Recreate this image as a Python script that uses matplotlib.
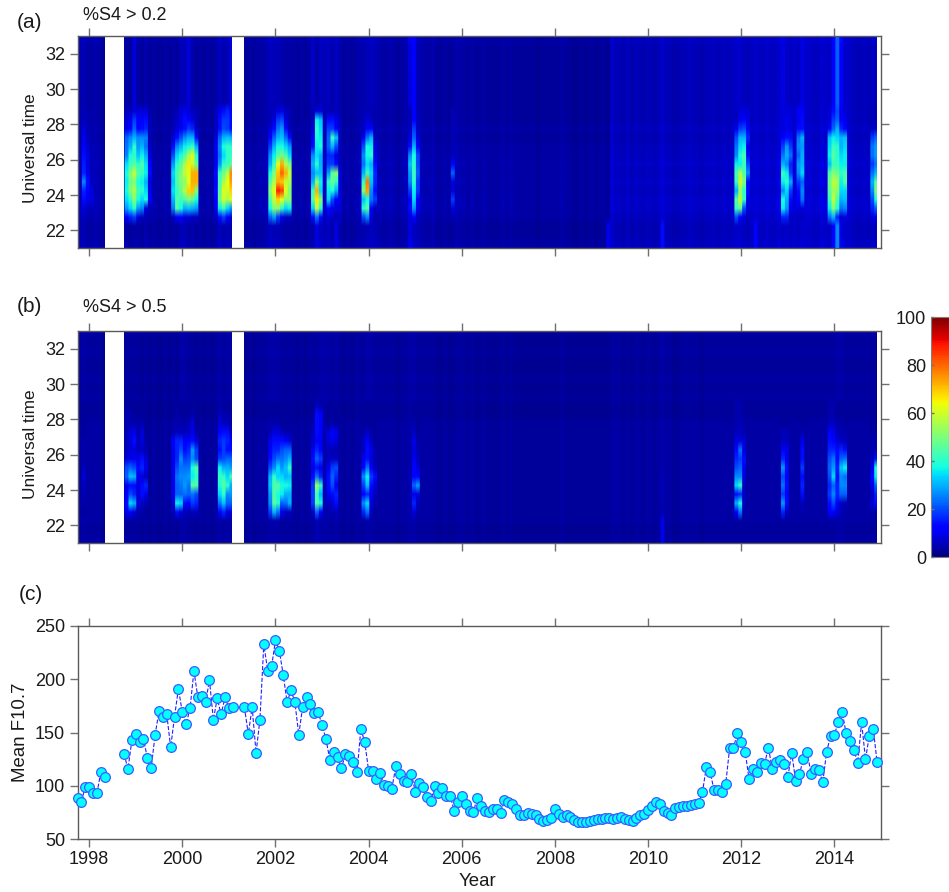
import numpy as np
import matplotlib
matplotlib.use("Agg")
import matplotlib.pyplot as plt

plt.rcParams['font.family'] = ['Liberation Sans', 'DejaVu Sans']

W, H = 949, 892
X_START, X_END = 1997.75, 2015.0
YEAR_TICKS = list(range(1998, 2016, 2))
UT_TICKS = [22, 24, 26, 28, 30, 32]
F107_TICKS = [50, 100, 150, 200, 250]
CBAR_TICKS = [0, 20, 40, 60, 80, 100]
GAPS = [(1998.34, 1998.75), (2001.07, 2001.33), (2014.92, 2015.0)]

# Monthly mean F10.7 (None = missing month)
F107 = [88.6, 85, 99, 99, 93.6, 93, 112.5, 108.4, None, None, None, None,
        130, 115.6, 142.6, 149, 141, 144, 126, 117, 148, 170, 165, 167, 136, 165, 191,
        169, 158, 172.8, 208, 183, 184, 178.7, 199, 162, 182, 167, 183, 173, 174, None, None,
        173.7, 148.6, 173.7, 131, 162, 233, 208, 212, 236.5, 226.8, 204, 178.4, 189.7,
        178.7, 148, 174, 183.8, 177, 168.4,
        169, 157, 144, 124.4, 132, 126.6, 116.6, 129.4, 127.9, 121.9, 112.5, 153.3, 141,
        114, 114, 106.8, 112, 100.9, 100.2, 97.4, 118.4, 110.9, 104.6, 103.4, 111.5, 94.6,
        102.4, 99, 89.9, 85.8, 99.3, 93.3, 98, 90.8, 90.8, 76.7, 84.5, 90.5, 83.3, 76.7,
        75.4, 88.9, 80.8, 76, 75.4, 78.6, 78, 74.2, 86.4, 84.5, 83.3, 78, 72.3, 72.6, 74.5,
        73.2, 72.6, 69, 67, 67.6, 69.5, 78, 73.9, 70.7, 72.3, 70.7, 68.2, 65.7, 65.7, 66.3,
        67.3, 68.2, 68.8, 69.2, 69.5, 69.8, 69.2, 69.5, 70.7, 68.5, 68.2, 67.3,
        70, 72.3, 73.5, 77, 81, 84.9, 83.3, 76, 74.2, 72.3, 79.5, 79.8, 80.8, 81.4, 82,
        83.3, 83.6, 94, 117.5, 112.8, 95.8, 95.8, 94.3, 101.8, 135.4, 135.4, 150, 141, 132,
        106.5, 115.6, 113, 121.3, 120.6, 135.7, 115.6, 121.9, 124, 120.6, 108, 131, 104.6,
        111.2, 125, 131.3, 110.6, 115.6, 114.4, 103.4, 132, 146.7, 148, 160, 169.3, 149.5,
        142.3, 133.5, 121.6, 159.6, 125, 147, 153.6, 121.9]

# Background level of each monthly column, by year
A_BG = ([6, 7, 5] +
        [5, 6, 5, 4, 4, 4, 4, 4, 4, 5, 4, 5] +
        [5, 4, 6, 4, 5, 4, 4, 5, 4, 5, 4, 7] +
        [7, 5, 6, 4, 5, 4, 5, 4, 5, 8, 6, 7] +
        [6, 5, 4, 4, 4, 5, 4, 5, 5, 6, 8, 7] +
        [7, 6, 5, 5, 5, 4, 5, 4, 5, 6, 5, 8] +
        [7, 8, 6, 8, 6, 4, 5, 4, 5, 6, 6, 7] +
        [8, 7, 6, 5, 5, 6, 5, 4, 5, 6, 12, 8] +
        [7, 6, 5, 5, 6, 4, 4, 5, 4, 4, 6, 5] +
        [5, 4, 5, 4, 4, 5, 4, 4, 4, 4, 5, 4] +
        [5, 4, 4, 4, 4, 4, 4, 3, 4, 4, 4, 4] +
        [4, 5, 4, 4, 3, 3, 4, 3, 4, 4, 3, 4] +
        [4, 3, 9, 7, 7, 6, 8, 6, 7, 7, 6, 7] +
        [7, 6, 7, 9, 7, 7, 6, 6, 7, 7, 8, 7] +
        [7, 6, 7, 7, 8, 7, 7, 8, 7, 8, 9, 9] +
        [8, 7, 8, 9, 8, 8, 9, 8, 8, 10, 8, 9] +
        [8, 9, 8, 10, 9, 9, 8, 8, 10, 9, 8, 8] +
        [14, 12, 9, 9, 8, 7, 7, 8, 7, 8, 8, 8])
B_BG = ([4, 5, 4] +
        [4, 4, 4, 3, 4, 3, 4, 4, 3, 4, 4, 4] +
        [4, 3, 4, 3, 4, 3, 3, 4, 3, 4, 3, 5] +
        [5, 4, 4, 3, 4, 3, 4, 3, 4, 5, 4, 5] +
        [4, 4, 3, 3, 3, 4, 3, 4, 4, 4, 5, 5] +
        [5, 4, 4, 4, 4, 3, 4, 3, 4, 4, 4, 5] +
        [5, 5, 4, 5, 4, 3, 4, 3, 4, 4, 4, 5] +
        [5, 4, 4, 4, 4, 4, 4, 3, 4, 4, 5, 5] +
        [4, 4, 4, 4, 4, 3, 3, 4, 3, 3, 4, 4] +
        [4, 3, 4, 3, 3, 4, 3, 3, 3, 3, 4, 3] +
        [4, 3, 3, 3, 3, 3, 3, 3, 3, 3, 3, 3] +
        [3, 4, 3, 3, 3, 3, 3, 3, 3, 3, 3, 3] +
        [3, 3, 4, 4, 4, 3, 4, 3, 4, 4, 3, 4] +
        [4, 3, 4, 5, 4, 4, 3, 3, 4, 4, 4, 4] +
        [4, 3, 4, 4, 4, 4, 4, 4, 4, 4, 4, 4] +
        [4, 4, 4, 4, 4, 4, 4, 4, 4, 4, 4, 4] +
        [4, 4, 4, 4, 4, 4, 4, 4, 4, 4, 4, 4] +
        [5, 5, 4, 4, 4, 4, 4, 4, 4, 4, 4, 4])

# Relative level of the background for each half-hour row, 21 to 33 UT
A_ROW = [0.85, 0.7, 0.75, 0.85, 0.95, 0.95, 0.85, 0.95, 0.85, 0.95, 0.85, 0.85,
         0.75, 0.85, 0.75, 0.75, 0.75, 0.7, 0.75, 0.7, 0.75, 0.75, 0.7, 0.85]
B_ROW = [0.85, 0.75, 0.85, 0.85, 0.95, 0.95, 0.95, 0.95, 0.85, 0.85, 0.85, 0.85,
         0.85, 0.85, 0.75, 0.75, 0.85, 0.75, 0.85, 0.75, 0.75, 0.85, 0.75, 0.85]

# Active columns: month index -> % for half-hour rows centred 22.75 ... 28.75 UT
A_ACTIVE = {
    1: [6, 8, 14, 16, 26, 16, 15, 14, 12, 10, 8, 6, 5],
    2: [4, 6, 10, 12, 14, 10, 9, 9, 7, 6, 5, 4, 4],
    3: [4, 5, 9, 8, 6, 6, 5, 5, 5, 4, 4, 4, 4],
    12: [12, 28, 35, 38, 36, 38, 35, 25, 24, 22, 10, 8, 6],
    13: [15, 34, 40, 50, 48, 50, 42, 38, 30, 26, 12, 10, 6],
    14: [18, 40, 52, 56, 50, 58, 45, 40, 40, 30, 22, 18, 8],
    15: [8, 28, 38, 42, 38, 45, 40, 32, 28, 26, 12, 12, 8],
    16: [6, 25, 34, 40, 36, 42, 44, 36, 30, 26, 14, 12, 8],
    17: [5, 8, 38, 34, 30, 36, 35, 30, 24, 25, 16, 14, 8],
    18: [4, 5, 12, 10, 8, 14, 12, 8, 6, 5, 5, 5, 4],
    24: [6, 25, 30, 35, 32, 34, 28, 20, 14, 8, 5, 5, 4],
    25: [12, 45, 45, 42, 44, 44, 40, 34, 26, 14, 8, 6, 5],
    26: [12, 38, 42, 48, 50, 50, 46, 38, 30, 20, 10, 10, 8],
    27: [8, 30, 45, 56, 52, 58, 55, 45, 36, 26, 14, 14, 10],
    28: [8, 32, 50, 68, 62, 62, 66, 55, 38, 30, 18, 12, 8],
    29: [6, 30, 46, 70, 72, 72, 58, 62, 42, 30, 16, 8, 6],
    30: [6, 28, 38, 50, 72, 72, 48, 40, 30, 14, 6, 5, 5],
    35: [6, 10, 12, 14, 12, 14, 10, 10, 10, 8, 6, 6, 6],
    36: [14, 36, 48, 46, 44, 42, 28, 24, 26, 22, 14, 14, 10],
    37: [18, 42, 60, 62, 55, 48, 40, 34, 38, 30, 20, 18, 14],
    38: [12, 34, 55, 60, 64, 56, 42, 40, 42, 32, 18, 18, 16],
    39: [8, 28, 62, 68, 74, 76, 46, 42, 40, 30, 14, 14, 12],
    49: [22, 38, 45, 52, 46, 38, 30, 26, 18, 12, 8, 5, 5],
    50: [28, 50, 58, 62, 56, 50, 42, 36, 30, 22, 14, 8, 6],
    51: [18, 52, 68, 88, 72, 70, 62, 46, 38, 30, 24, 18, 8],
    52: [10, 40, 62, 84, 70, 80, 72, 48, 38, 32, 28, 20, 10],
    53: [6, 34, 52, 62, 58, 72, 56, 44, 34, 24, 14, 8, 6],
    54: [6, 36, 52, 50, 56, 58, 50, 34, 28, 14, 6, 5, 5],
    60: [14, 34, 46, 42, 30, 26, 30, 26, 14, 12, 8, 6, 5],
    61: [24, 58, 66, 72, 52, 32, 40, 34, 36, 38, 40, 36, 8],
    62: [14, 40, 50, 34, 36, 32, 30, 30, 38, 36, 34, 32, 8],
    64: [8, 14, 34, 36, 40, 28, 18, 16, 22, 22, 18, 14, 5],
    65: [6, 10, 20, 38, 48, 46, 18, 16, 30, 42, 18, 14, 5],
    66: [5, 8, 12, 30, 40, 50, 14, 8, 20, 32, 12, 10, 5],
    67: [6, 8, 8, 8, 8, 8, 6, 6, 6, 6, 6, 6, 5],
    73: [20, 40, 32, 50, 40, 30, 24, 26, 20, 10, 6, 5, 5],
    74: [26, 46, 38, 74, 78, 42, 34, 38, 38, 24, 12, 8, 5],
    75: [8, 12, 24, 26, 32, 34, 30, 40, 36, 30, 12, 6, 5],
    76: [4, 5, 18, 14, 16, 16, 14, 10, 8, 6, 5, 4, 4],
    85: [8, 14, 12, 18, 26, 28, 32, 26, 14, 8, 6, 5, 5],
    86: [12, 28, 34, 36, 40, 42, 40, 38, 30, 22, 18, 12, 12],
    87: [6, 10, 12, 18, 18, 22, 20, 20, 12, 8, 6, 6, 5],
    96: [5, 8, 18, 8, 8, 22, 12, 6, 5, 5, 5, 5, 5],
    169: [20, 42, 46, 30, 42, 44, 36, 26, 24, 20, 10, 6, 6],
    170: [12, 46, 58, 52, 60, 55, 36, 38, 34, 30, 18, 10, 8],
    171: [8, 20, 40, 40, 50, 44, 42, 44, 36, 30, 20, 12, 8],
    172: [6, 8, 10, 14, 14, 26, 20, 14, 10, 16, 12, 8, 8],
    181: [16, 36, 38, 26, 36, 42, 30, 24, 18, 12, 8, 8, 8],
    182: [16, 28, 30, 34, 40, 36, 26, 30, 28, 14, 10, 10, 8],
    183: [6, 10, 14, 18, 30, 18, 16, 24, 18, 14, 8, 8, 8],
    185: [6, 8, 12, 14, 18, 26, 28, 22, 26, 24, 14, 10, 12],
    186: [6, 8, 24, 26, 22, 34, 30, 30, 28, 30, 14, 14, 12],
    193: [24, 36, 42, 46, 48, 44, 32, 36, 34, 32, 12, 8, 8],
    194: [30, 50, 58, 54, 58, 50, 42, 46, 42, 36, 22, 18, 14],
    195: [16, 40, 44, 52, 55, 48, 42, 40, 40, 34, 30, 22, 20],
    196: [8, 24, 30, 34, 36, 40, 36, 34, 30, 30, 16, 12, 10],
    197: [8, 26, 32, 34, 46, 44, 36, 36, 34, 32, 12, 10, 8],
    204: [8, 16, 20, 26, 30, 24, 18, 24, 24, 18, 6, 5, 5],
    205: [10, 22, 38, 50, 46, 30, 24, 28, 28, 22, 8, 6, 5],
}
B_ACTIVE = {
    1: [3, 4, 5, 6, 8, 5, 4, 4, 4, 3, 3, 3, 3],
    12: [10, 14, 12, 10, 22, 20, 8, 6, 6, 5, 4, 4, 3],
    13: [12, 34, 20, 14, 32, 22, 10, 8, 8, 8, 4, 4, 3],
    14: [8, 30, 16, 14, 30, 20, 10, 8, 14, 10, 4, 3, 3],
    15: [4, 8, 8, 8, 10, 14, 10, 6, 6, 4, 4, 3, 3],
    16: [4, 6, 14, 14, 8, 16, 14, 6, 8, 8, 4, 3, 3],
    17: [3, 5, 10, 16, 6, 10, 8, 4, 4, 3, 3, 3, 3],
    24: [4, 8, 10, 10, 10, 10, 10, 10, 12, 4, 4, 3, 3],
    25: [14, 36, 22, 22, 24, 20, 16, 16, 16, 6, 4, 4, 3],
    26: [8, 34, 22, 24, 26, 24, 26, 20, 16, 5, 4, 3, 3],
    27: [6, 14, 24, 28, 26, 24, 18, 14, 12, 6, 4, 3, 3],
    28: [4, 12, 22, 24, 28, 24, 20, 16, 12, 6, 5, 3, 3],
    29: [6, 18, 24, 46, 36, 38, 26, 28, 14, 10, 8, 4, 3],
    30: [6, 16, 20, 44, 40, 44, 20, 18, 8, 4, 3, 3, 3],
    36: [12, 24, 34, 38, 42, 36, 18, 14, 16, 12, 8, 6, 4],
    37: [16, 32, 40, 46, 40, 30, 20, 18, 18, 14, 6, 4, 3],
    38: [8, 22, 26, 40, 34, 30, 22, 14, 16, 14, 6, 4, 3],
    39: [10, 22, 28, 30, 44, 28, 22, 14, 12, 6, 3, 3, 3],
    49: [18, 26, 28, 32, 30, 20, 14, 12, 10, 5, 4, 3, 3],
    50: [30, 46, 44, 44, 40, 26, 20, 16, 14, 8, 4, 3, 3],
    51: [24, 40, 38, 46, 34, 34, 24, 16, 14, 8, 4, 3, 3],
    52: [10, 22, 36, 38, 34, 28, 24, 20, 14, 6, 3, 3, 3],
    53: [6, 24, 30, 38, 30, 32, 26, 22, 12, 4, 3, 3, 3],
    54: [6, 30, 30, 36, 32, 40, 30, 22, 8, 4, 3, 3, 3],
    60: [6, 18, 18, 18, 14, 10, 14, 10, 6, 6, 4, 3, 3],
    61: [22, 46, 42, 54, 24, 14, 22, 16, 12, 14, 14, 14, 6],
    62: [12, 38, 30, 40, 16, 10, 18, 12, 10, 12, 12, 12, 4],
    64: [4, 6, 10, 14, 14, 10, 6, 5, 8, 8, 3, 3, 3],
    65: [4, 8, 14, 20, 22, 18, 6, 5, 10, 12, 4, 3, 3],
    66: [6, 14, 16, 10, 16, 20, 6, 4, 8, 10, 3, 3, 3],
    73: [16, 26, 12, 18, 26, 12, 10, 6, 6, 4, 3, 3, 3],
    74: [24, 34, 16, 32, 36, 24, 14, 14, 12, 6, 3, 3, 3],
    75: [6, 8, 10, 14, 18, 10, 8, 10, 6, 4, 3, 3, 3],
    76: [3, 4, 6, 8, 14, 6, 4, 4, 3, 3, 3, 3, 3],
    86: [8, 16, 10, 22, 12, 12, 10, 8, 10, 6, 4, 3, 3],
    87: [4, 6, 8, 28, 12, 8, 6, 5, 4, 3, 3, 3, 3],
    169: [12, 30, 14, 34, 26, 20, 16, 14, 8, 6, 4, 4, 4],
    170: [24, 38, 16, 40, 26, 22, 18, 24, 8, 6, 5, 4, 4],
    171: [4, 6, 6, 6, 8, 10, 14, 8, 8, 4, 4, 3, 3],
    181: [16, 28, 18, 24, 20, 28, 16, 12, 6, 5, 3, 3, 3],
    182: [6, 14, 12, 14, 12, 14, 10, 10, 6, 5, 3, 3, 3],
    186: [4, 6, 14, 16, 14, 18, 14, 14, 10, 4, 3, 3, 3],
    193: [12, 14, 18, 16, 20, 22, 20, 16, 14, 12, 6, 4, 4],
    194: [12, 20, 26, 22, 34, 28, 24, 16, 12, 10, 6, 4, 4],
    195: [8, 12, 16, 16, 14, 16, 14, 14, 8, 5, 4, 3, 3],
    196: [5, 6, 22, 26, 26, 32, 22, 16, 6, 5, 4, 3, 3],
    197: [4, 5, 22, 26, 24, 36, 24, 14, 6, 4, 3, 3, 3],
    204: [4, 8, 6, 10, 14, 10, 6, 4, 4, 3, 3, 3, 3],
    205: [4, 14, 16, 22, 36, 38, 14, 6, 4, 4, 3, 3, 3],
}
# Streaks above 29 UT (month index -> %) and below 22.5 UT
A_TOP = {195: 22, 194: 13, 196: 11, 86: 12, 14: 8, 28: 8, 39: 8, 60: 7, 186: 9, 181: 9}
A_LOW = {195: 26, 194: 13, 150: 14, 174: 13, 136: 10, 61: 9, 66: 9}
B_TOP = {}
B_LOW = {150: 10, 61: 5}

assert len(F107) == 207 and len(A_BG) == 207 and len(B_BG) == 207


def build_grid(bg, rows, active, top, low):
    grid = np.outer(rows, bg).astype(float)
    for col, v in active.items():
        grid[3:16, col] = v
    for col, v in top.items():
        grid[16:24, col] = v
    for col, v in low.items():
        grid[0:3, col] = v
    return grid


def ax_px(left, top, right, bottom):
    return fig.add_axes([left / W, 1 - bottom / H, (right - left) / W, (bottom - top) / H])


def style(ax):
    ax.set_xlim(X_START, X_END)
    for s in ax.spines.values():
        s.set_color('#5a5a5a')
        s.set_linewidth(1.0)
    ax.set_xticks(YEAR_TICKS)
    ax.tick_params(axis='both', which='both', direction='out', length=5.8, width=1.0,
                   color='#707070', top=True, right=True, labelsize=13, pad=3.2,
                   labelcolor='#1a1a1a')


fig = plt.figure(figsize=(W / 100, H / 100), dpi=100)
cmap = plt.get_cmap('jet', 128)

panels = [((36, 248), build_grid(A_BG, A_ROW, A_ACTIVE, A_TOP, A_LOW), '(a)', '%S4 > 0.2', 22, 15, 148),
          ((331, 543), build_grid(B_BG, B_ROW, B_ACTIVE, B_TOP, B_LOW), '(b)', '%S4 > 0.5', 307, 308, 444)]
for (top, bottom), grid, tag, title, tag_y, title_y, lab_y in panels:
    ax = ax_px(77.5, top, 881, bottom)
    # each monthly column is repeated so that months keep crisp edges while rows blend
    im = ax.imshow(np.repeat(grid, 4, axis=1), origin='lower', aspect='auto', cmap=cmap,
                   vmin=0, vmax=100, extent=[X_START, X_END, 21, 33], interpolation='bilinear')
    for g0, g1 in GAPS:
        ax.axvspan(g0, g1, color='white', lw=0, zorder=2)
    style(ax)
    ax.set_ylim(21, 33)
    ax.set_yticks(UT_TICKS)
    ax.tick_params(axis='x', labelbottom=False)
    fig.text(17 / W, 1 - tag_y / H, tag, fontsize=15, va='center', ha='left', color='#1a1a1a')
    fig.text(83 / W, 1 - title_y / H, title, fontsize=13, va='center', ha='left', color='#1a1a1a')
    fig.text(30.5 / W, 1 - lab_y / H, 'Universal time', fontsize=12.4, rotation=90,
             va='center', ha='center', color='#1a1a1a')

# Panel (c)
axc = ax_px(77.5, 626, 881, 839)
months = X_START + np.arange(len(F107)) / 12
vals = np.array([np.nan if v is None else v for v in F107], dtype=float)
axc.plot(months, vals, ls='--', lw=0.8, color='#2020ff', marker='o', ms=7.0, mfc='#00ffff',
         mec='#3a5cff', mew=0.9, clip_on=False, zorder=3)
style(axc)
axc.set_ylim(50, 250)
axc.set_yticks(F107_TICKS)
fig.text(19 / W, 1 - 594 / H, '(c)', fontsize=15, va='center', ha='left', color='#1a1a1a')
fig.text(21 / W, 1 - 732.5 / H, 'Mean F10.7', fontsize=13.4, rotation=90, va='center',
         ha='center', color='#1a1a1a')
fig.text(477 / W, 1 - 881 / H, 'Year', fontsize=13.4, va='center', ha='center', color='#1a1a1a')

# Colour bar
cax = fig.add_axes([931 / W, 1 - 557 / H, 18 / W, 240 / H])
cb = fig.colorbar(im, cax=cax, ticks=CBAR_TICKS)
cax.yaxis.set_ticks_position('left')
cax.yaxis.set_label_position('left')
cax.tick_params(axis='y', direction='in', length=2.5, width=1.0, color='#707070',
                labelsize=13, pad=3.5, labelcolor='#1a1a1a')
cb.outline.set_edgecolor('#808080')
cb.outline.set_linewidth(0.8)

fig.savefig('out.png', dpi=100)
